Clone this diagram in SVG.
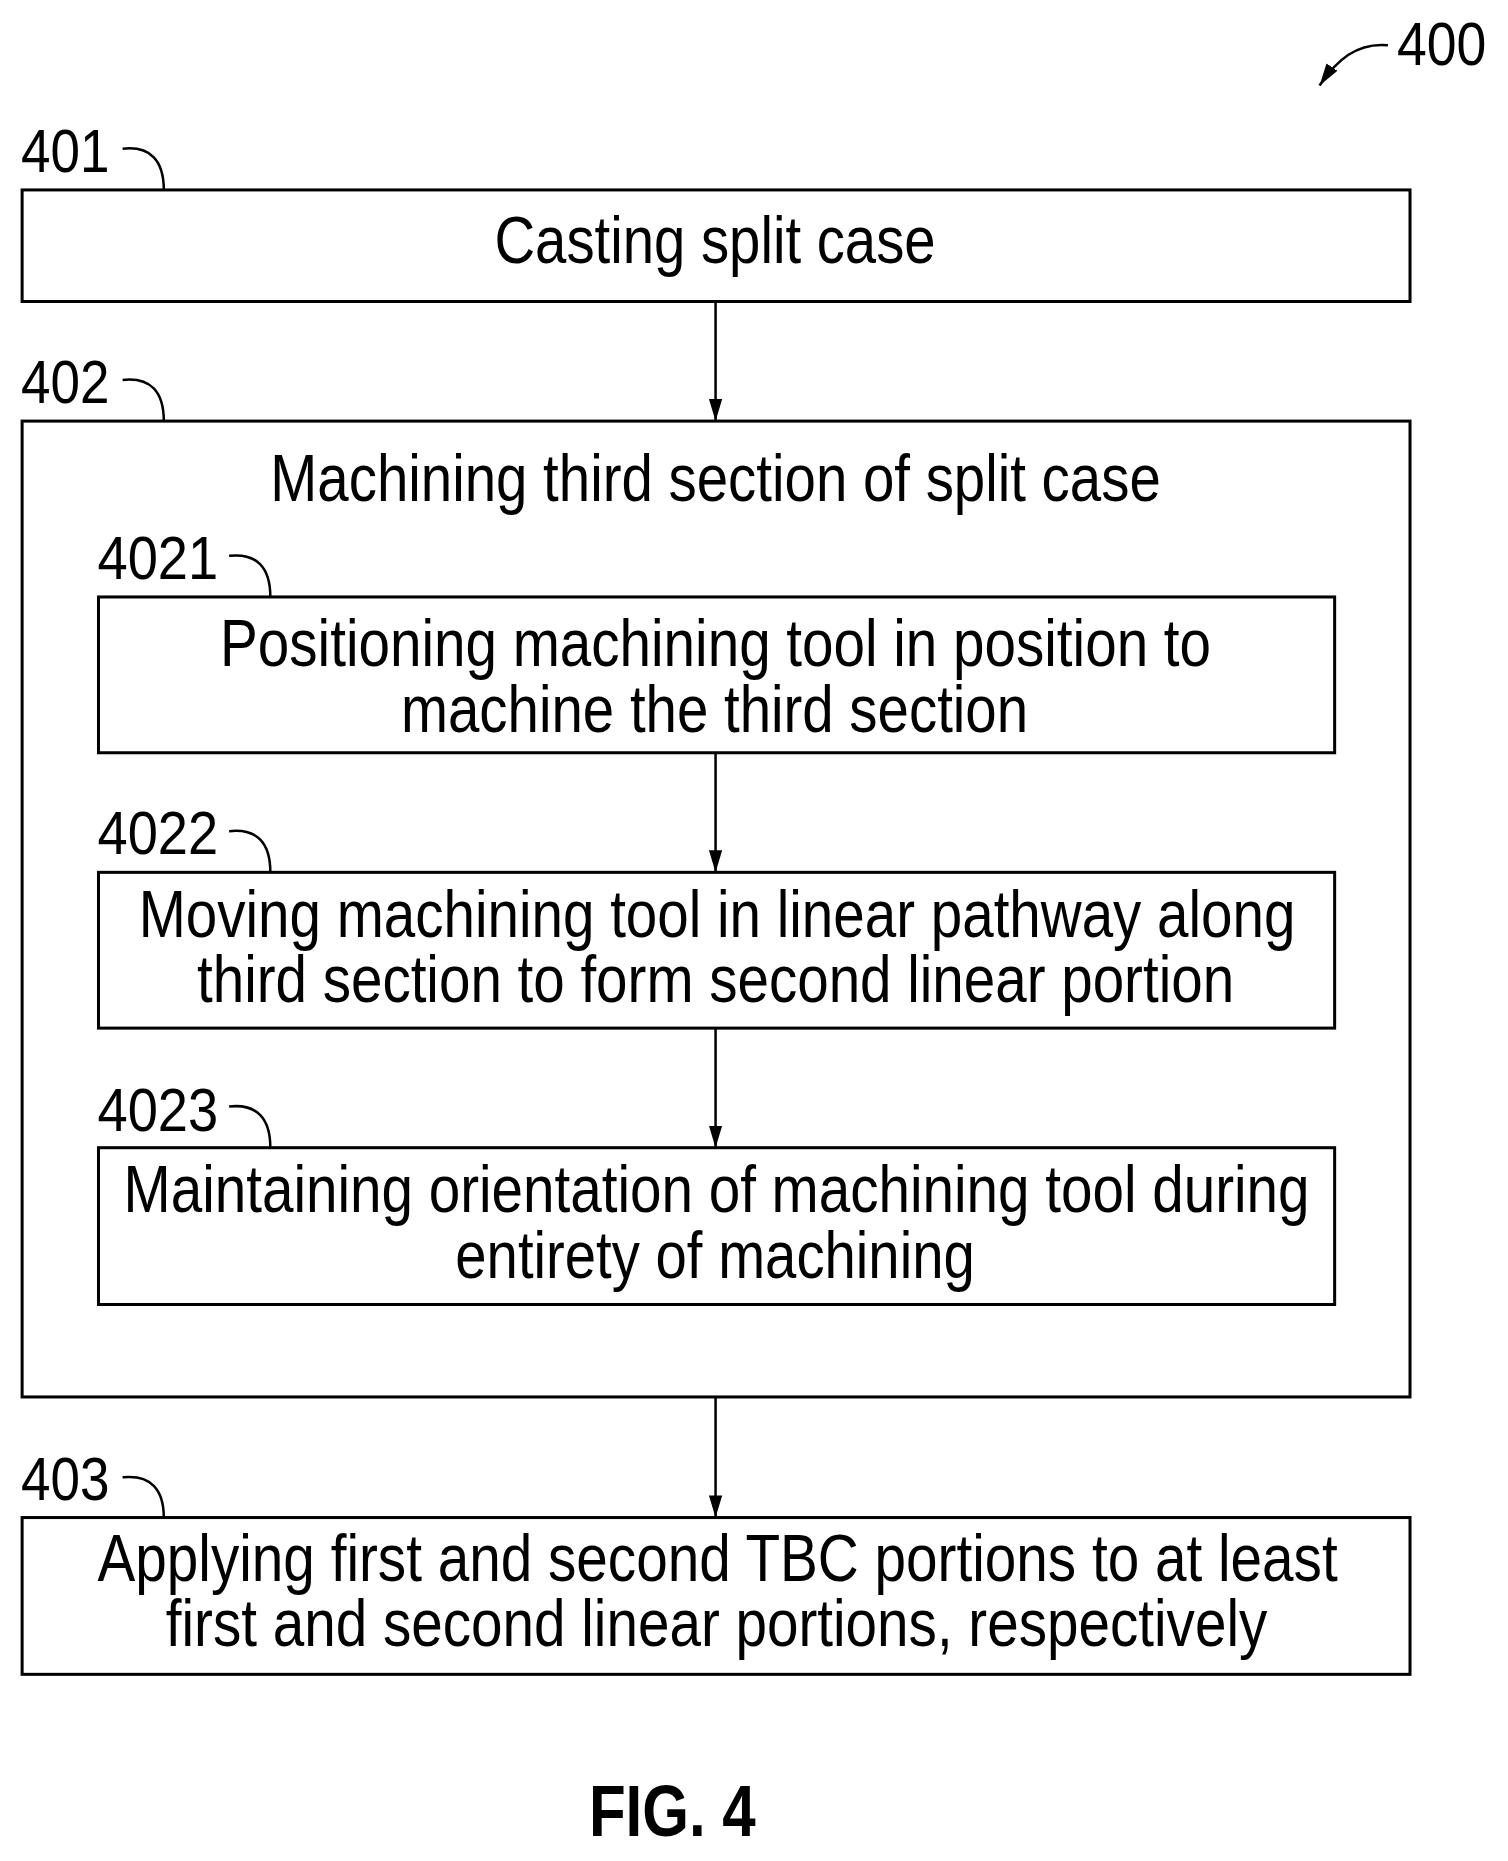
<svg xmlns="http://www.w3.org/2000/svg" width="1508" height="1861" viewBox="0 0 1508 1861">
<style>
.b{fill:none;stroke:#000;stroke-width:3}
.t{font-family:"Liberation Sans",Arial,sans-serif;font-size:67px;fill:#000}
.l{font-family:"Liberation Sans",Arial,sans-serif;font-size:60px;fill:#000}
.c{fill:none;stroke:#000;stroke-width:2.5}
</style>
<defs><marker id="a" viewBox="0 0 10 10" refX="10" refY="5" markerWidth="22" markerHeight="22" markerUnits="userSpaceOnUse" orient="auto"><path d="M0,2L10,5L0,8z" fill="#000"/></marker>
<marker id="ah" viewBox="0 0 10 10" refX="10" refY="5" markerWidth="22" markerHeight="22" markerUnits="userSpaceOnUse" orient="auto"><path d="M0,2L10,5L0,8z" fill="#000"/></marker></defs>
<rect width="1508" height="1861" fill="#fff"/>
<g transform="scale(1.005)">
<g id="ref400"><text class="l" x="1390" y="65" textLength="89" lengthAdjust="spacingAndGlyphs">400</text><path class="c" d="M1381,45 C1350,42 1330,60 1313,85" marker-end="url(#ah)"/></g>
<g id="n401"><rect class="b" x="22" y="189" width="1381" height="111"/><text class="t" x="492" y="262" textLength="439" lengthAdjust="spacingAndGlyphs">Casting split case</text>
<text class="l" x="21" y="171" textLength="88" lengthAdjust="spacingAndGlyphs">401</text><path class="c" d="M122,148 C150,145 163,160 163,189"/></g>
<g id="n402"><rect class="b" x="22" y="419" width="1381" height="971"/><text class="t" x="269" y="499" textLength="886" lengthAdjust="spacingAndGlyphs">Machining third section of split case</text>
<text class="l" x="21" y="401" textLength="88" lengthAdjust="spacingAndGlyphs">402</text><path class="c" d="M122,378 C150,375 163,390 163,419"/></g>
<g id="n4021"><rect class="b" x="98" y="594" width="1230" height="155"/><text class="t" x="219" y="663" textLength="986" lengthAdjust="spacingAndGlyphs">Positioning machining tool in position to</text><text class="t" x="399" y="728" textLength="624" lengthAdjust="spacingAndGlyphs">machine the third section</text>
<text class="l" x="97" y="576" textLength="120" lengthAdjust="spacingAndGlyphs">4021</text><path class="c" d="M228,553 C256,550 269,565 269,594"/></g>
<g id="n4022"><rect class="b" x="98" y="868" width="1230" height="155"/><text class="t" x="138" y="932" textLength="1151" lengthAdjust="spacingAndGlyphs">Moving machining tool in linear pathway along</text><text class="t" x="196" y="997" textLength="1032" lengthAdjust="spacingAndGlyphs">third section to form second linear portion</text>
<text class="l" x="97" y="850" textLength="120" lengthAdjust="spacingAndGlyphs">4022</text><path class="c" d="M228,827 C256,824 269,839 269,868"/></g>
<g id="n4023"><rect class="b" x="98" y="1142" width="1230" height="156"/><text class="t" x="123" y="1206" textLength="1180" lengthAdjust="spacingAndGlyphs">Maintaining orientation of machining tool during</text><text class="t" x="453" y="1272" textLength="517" lengthAdjust="spacingAndGlyphs">entirety of machining</text>
<text class="l" x="97" y="1125" textLength="120" lengthAdjust="spacingAndGlyphs">4023</text><path class="c" d="M228,1101 C256,1098 269,1113 269,1142"/></g>
<g id="n403"><rect class="b" x="22" y="1510" width="1381" height="156"/><text class="t" x="97" y="1573" textLength="1234" lengthAdjust="spacingAndGlyphs">Applying first and second TBC portions to at least</text><text class="t" x="165" y="1638" textLength="1096" lengthAdjust="spacingAndGlyphs">first and second linear portions, respectively</text>
<text class="l" x="21" y="1493" textLength="88" lengthAdjust="spacingAndGlyphs">403</text><path class="c" d="M122,1470 C150,1467 163,1482 163,1510"/></g>
<g id="connectors">
<line class="c" x1="712" y1="300" x2="712" y2="419" marker-end="url(#a)"/>
<line class="c" x1="712" y1="749" x2="712" y2="868" marker-end="url(#a)"/>
<line class="c" x1="712" y1="1023" x2="712" y2="1142" marker-end="url(#a)"/>
<line class="c" x1="712" y1="1390" x2="712" y2="1510" marker-end="url(#a)"/>
</g>
<text x="586" y="1827" font-family="Liberation Sans,Arial,sans-serif" font-weight="bold" font-size="72" textLength="166" lengthAdjust="spacingAndGlyphs">FIG. 4</text>
</g>
</svg>
